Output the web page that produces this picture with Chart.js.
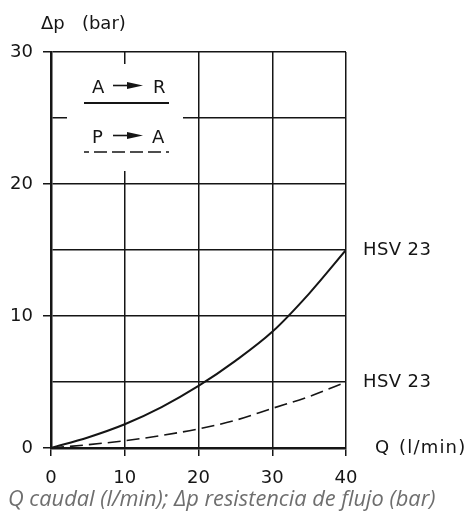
<!DOCTYPE html>
<html><head><meta charset="utf-8">
<script src="https://cdn.jsdelivr.net/npm/chart.js@4"></script>
<style>html,body{margin:0;padding:0;background:#fff;} canvas{display:block;}</style>
</head><body>
<canvas id="c" width="474" height="519"></canvas>
<script>
const flowQ = [0, 5, 10, 15, 20, 25, 30, 35, 40];
const dpAR = [0, 0.8, 1.8, 3.1, 4.7, 6.6, 8.8, 11.7, 15];
const dpPA = [0, 0.25, 0.55, 0.95, 1.45, 2.1, 3.0, 3.9, 5.0];
const yTickLabels = [0, 10, 20, 30];
const xTickLabels = [0, 10, 20, 30, 40];
const seriesLabels = ['HSV 23', 'HSV 23'];
const legendLabels = [['A', 'R'], ['P', 'A']];
const yTitle = 'Δp   (bar)';
const xTitle = ['Q', '(l/min)'];
const caption = 'Q caudal (l/min); Δp resistencia de flujo (bar)';

const FONT = "'DejaVu Sans', sans-serif";
const INK = '#151515';

function pts(xs, ys) { return xs.map((x, i) => ({x: x, y: ys[i]})); }

function arrow(ctx, x1, x2, y) {
  ctx.save();
  ctx.strokeStyle = INK; ctx.fillStyle = INK; ctx.lineWidth = 1.6;
  ctx.beginPath(); ctx.moveTo(x1, y); ctx.lineTo(x2 - 12, y); ctx.stroke();
  ctx.beginPath(); ctx.moveTo(x2 - 16, y - 3.5); ctx.lineTo(x2, y); ctx.lineTo(x2 - 16, y + 3.5); ctx.closePath(); ctx.fill();
  ctx.restore();
}

const overlay = {
  id: 'overlay',
  afterDraw(chart) {
    const ctx = chart.ctx;
    const xs = chart.scales.x, ys = chart.scales.y;
    ctx.save();
    ctx.fillStyle = INK;
    ctx.font = '18px ' + FONT;
    ctx.textAlign = 'left';
    ctx.textBaseline = 'alphabetic';
    ctx.fillText(yTitle, 41, 29);
    ctx.fillText(xTitle[0], 375, 453);
    ctx.letterSpacing = '1.2px';
    ctx.fillText(xTitle[1], 399, 453);
    ctx.letterSpacing = '0.4px';
    ctx.textBaseline = 'middle';
    const xEnd = xs.getPixelForValue(flowQ[flowQ.length - 1]) + 17;
    ctx.fillText(seriesLabels[0], xEnd, ys.getPixelForValue(dpAR[dpAR.length - 1]));
    ctx.fillText(seriesLabels[1], xEnd, ys.getPixelForValue(dpPA[dpPA.length - 1]));
    ctx.letterSpacing = '0px';

    // legend box
    ctx.fillStyle = '#fff';
    ctx.fillRect(67, 64, 116, 107);
    ctx.fillStyle = INK;
    ctx.textBaseline = 'alphabetic';
    ctx.fillText(legendLabels[0][0], 92, 93);
    ctx.fillText(legendLabels[0][1], 153, 93);
    arrow(ctx, 113, 143, 85.5);
    ctx.fillText(legendLabels[1][0], 92, 143);
    ctx.fillText(legendLabels[1][1], 152, 143);
    arrow(ctx, 113, 143, 135.5);
    ctx.strokeStyle = INK;
    ctx.lineWidth = 2;
    ctx.beginPath(); ctx.moveTo(84, 103); ctx.lineTo(169, 103); ctx.stroke();
    ctx.lineWidth = 1.6;
    ctx.setLineDash([13, 5]);
    ctx.lineDashOffset = 8;
    ctx.beginPath(); ctx.moveTo(84, 152); ctx.lineTo(169, 152); ctx.stroke();
    ctx.setLineDash([]);

    // caption
    ctx.fillStyle = '#6e6e6e';
    ctx.font = "italic 21.8px 'Open Sans', sans-serif";
    ctx.fillText(caption, 8, 506);
    ctx.restore();
  }
};

new Chart(document.getElementById('c'), {
  type: 'scatter',
  data: {
    datasets: [
      { label: seriesLabels[0], data: pts(flowQ, dpAR), showLine: true, borderColor: INK, borderWidth: 2, pointRadius: 0, cubicInterpolationMode: 'monotone' },
      { label: seriesLabels[1], data: pts(flowQ, dpPA), showLine: true, borderColor: INK, borderWidth: 1.6, borderDash: [13, 6], pointRadius: 0, cubicInterpolationMode: 'monotone' }
    ]
  },
  options: {
    responsive: false,
    animation: false,
    devicePixelRatio: 1,
    layout: { padding: { top: 52, right: 128, left: 0, bottom: 0 } },
    plugins: { legend: { display: false }, tooltip: { enabled: false }, title: { display: false } },
    scales: {
      x: {
        type: 'linear', min: 0, max: 40,
        afterFit(s) { s.height = 71; },
        afterBuildTicks(s) { s.ticks = xTickLabels.map(v => ({value: v})); },
        ticks: { color: INK, font: { family: FONT, size: 18 }, padding: 12, maxRotation: 0 },
        grid: { color: INK, lineWidth: 1.5, tickLength: 8, tickColor: INK },
        border: { color: INK, width: 2.5 }
      },
      y: {
        type: 'linear', min: 0, max: 30,
        afterFit(s) { s.width = 51; },
        afterBuildTicks(s) { const t = []; for (let v = 0; v <= 30; v += 5) t.push({value: v}); s.ticks = t; },
        ticks: { color: INK, font: { family: FONT, size: 18 }, padding: 10,
          callback: v => yTickLabels.includes(v) ? String(v) : '' },
        grid: { color: INK, lineWidth: 1.5, tickLength: 8,
          tickColor: c => (c.tick && yTickLabels.includes(c.tick.value)) ? INK : 'rgba(0,0,0,0)' },
        border: { color: INK, width: 2.5 }
      }
    }
  },
  plugins: [overlay]
});
</script>
</body></html>
